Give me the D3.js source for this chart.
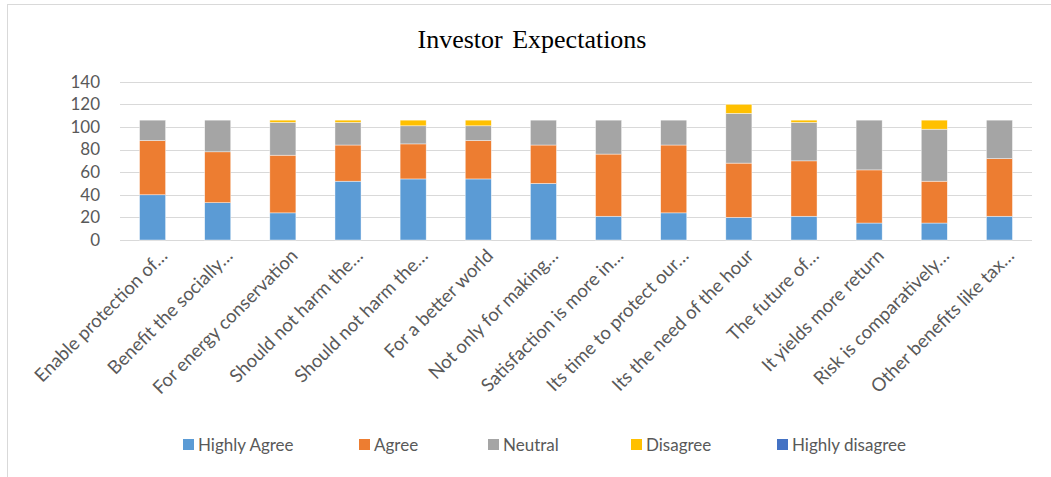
<!DOCTYPE html>
<html><head><meta charset="utf-8">
<script src="https://cdn.jsdelivr.net/npm/d3@7"></script>
<style>body{margin:0;background:#fff;} svg{display:block;}</style>
</head><body>
<svg id="c" width="1051" height="477"></svg>
<script>
const categories = ["Enable protection of…","Benefit the socially…","For energy conservation","Should not harm the…","Should not harm the…","For a better world","Not only for making…","Satisfaction is more in…","Its time to protect our…","Its the need of the hour","The future of…","It yields more return","Risk is comparatively…","Other benefits like tax…"];
const seriesNames = ["Highly Agree","Agree","Neutral","Disagree","Highly disagree"];
const highlyAgree = [40,33,24,52,54,54,50,21,24,20,21,15,15,21];
const agree       = [48,45,51,32,31,34,34,55,60,48,49,47,37,51];
const neutral     = [18,28,29,20,16,13,22,30,22,44,34,44,46,34];
const disagree    = [0,0,2,2,5,5,0,0,0,8,2,0,8,0];
const highlyDisagree = [0,0,0,0,0,0,0,0,0,0,0,0,0,0];
const yTicks = [0,20,40,60,80,100,120,140];
const colors = ["#5B9BD5","#ED7D31","#A5A5A5","#FFC000","#4472C4"];

(function(){
const svg = d3.select("#c");
svg.append("rect").attr("x",7.5).attr("y",4.5).attr("width",1200).attr("height",600)
  .attr("fill","#fff").attr("stroke","#d9d9d9").attr("stroke-width",1);

const pl=120, pr=1032, pt=81.7, pb=240;
const x = d3.scaleBand().domain(d3.range(categories.length)).range([pl,pr]).paddingInner(0.6).paddingOuter(0.3);
const y = d3.scaleLinear().domain([0,140]).range([pb,pt]);

svg.append("text").attr("x",532).attr("y",48).attr("text-anchor","middle")
  .attr("font-family","Liberation Serif").attr("font-size",26).attr("fill","#000")
  .attr("word-spacing",3).text("Investor Expectations");

svg.append("g").selectAll("line").data(yTicks).join("line")
  .attr("x1",pl).attr("x2",pr).attr("y1",d=>Math.round(y(d))+0.5).attr("y2",d=>Math.round(y(d))+0.5)
  .attr("stroke","#d9d9d9").attr("stroke-width",1);

const yAxis = d3.axisLeft(y).tickValues(yTicks).tickSize(0).tickPadding(0);
const ya = svg.append("g").attr("transform",`translate(${pl-20},0)`).call(yAxis);
ya.select(".domain").remove();
ya.selectAll("text").attr("font-family","Lato").attr("font-size",17).attr("fill","#595959");

const rows = categories.map((c,i)=>({i, "Highly Agree":highlyAgree[i], "Agree":agree[i], "Neutral":neutral[i], "Disagree":disagree[i], "Highly disagree":highlyDisagree[i]}));
const stack = d3.stack().keys(seriesNames)(rows);
svg.append("g").selectAll("g").data(stack).join("g").attr("fill",(d,k)=>colors[k])
  .selectAll("rect").data(d=>d).join("rect")
  .attr("x",d=>x(d.data.i)).attr("width",x.bandwidth())
  .attr("y",d=>y(d[1])).attr("height",d=>y(d[0])-y(d[1]))
  .attr("stroke","#fff").attr("stroke-width",0.6).attr("stroke-opacity",0.7);

const xAxis = d3.axisBottom(x).tickFormat(i=>categories[i]).tickSize(0).tickPadding(0);
const xa = svg.append("g").attr("transform",`translate(0,${pb})`).call(xAxis);
xa.select(".domain").remove();
xa.selectAll("text").attr("font-family","Lato").attr("font-size",18.5).attr("fill","#595959")
  .attr("text-anchor","end").attr("dy",0).attr("y",0)
  .attr("transform","translate(16,17) rotate(-45)");

const legX = [183,359,488,631,777];
const lg = svg.append("g").selectAll("g").data(seriesNames).join("g")
  .attr("transform",(d,k)=>`translate(${legX[k]},439)`);
lg.append("rect").attr("width",11).attr("height",11).attr("fill",(d,k)=>colors[k]);
lg.append("text").attr("x",15).attr("y",11.5).attr("font-family","Lato").attr("font-size",17)
  .attr("fill","#595959").text(d=>d);
})();
</script>
</body></html>
